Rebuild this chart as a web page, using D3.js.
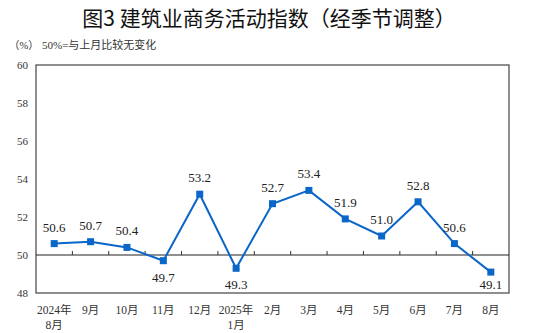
<!DOCTYPE html>
<html><head><meta charset="utf-8">
<script src="https://cdn.jsdelivr.net/npm/d3@7"></script>
<style>body{margin:0;background:#fff}svg{display:block}</style>
</head><body>
<svg id="c" width="538" height="333"></svg>
<script>
const categories = ["2024年\n8月","9月","10月","11月","12月","2025年\n1月","2月","3月","4月","5月","6月","7月","8月"];
const values = [50.6,50.7,50.4,49.7,53.2,49.3,52.7,53.4,51.9,51.0,52.8,50.6,49.1];
const labelBelow = [false,false,false,true,false,true,false,false,false,false,false,false,true];
const yTicks = [48,50,52,54,56,58,60];
const title = "图3  建筑业商务活动指数（经季节调整）";
const note = "50%=与上月比较无变化";
const unit = "（%）";

const svg = d3.select("#c");
const L=36,R=509,T=65,B=293;
const x = d3.scaleBand().domain(d3.range(categories.length)).range([L,R]);
const y = d3.scaleLinear().domain([48,60]).range([B,T]);
const serif = "'Liberation Serif','Times New Roman','Noto Sans CJK SC',serif";
const blue = "#0a66c8";

svg.append("text").attr("x",269).attr("y",26).attr("text-anchor","middle")
  .attr("font-family","'Noto Sans CJK SC',sans-serif").attr("font-weight",400).attr("font-size",21).attr("fill","#111").text(title);
svg.append("text").attr("x",9).attr("y",49).attr("font-family",serif).attr("font-size",10.5).attr("fill","#333").text(unit);
svg.append("text").attr("x",42).attr("y",49).attr("font-family",serif).attr("font-size",11).attr("fill","#333").text(note);

svg.append("rect").attr("x",L).attr("y",T).attr("width",R-L).attr("height",B-T)
  .attr("fill","none").attr("stroke","#444").attr("stroke-width",1.2);

const yAxis = d3.axisLeft(y).tickValues(yTicks).tickSize(0).tickPadding(8);
const ga = svg.append("g").attr("transform",`translate(${L},0)`).call(yAxis);
ga.select(".domain").remove();
ga.selectAll("text").attr("font-family",serif).attr("font-size",11).attr("fill","#333");

svg.append("line").attr("x1",L).attr("x2",R).attr("y1",y(50)).attr("y2",y(50)).attr("stroke","#222").attr("stroke-width",1.2);
svg.selectAll(".tk").data(d3.range(1,categories.length)).enter().append("line")
  .attr("x1",i=>x(i)).attr("x2",i=>x(i)).attr("y1",y(50)).attr("y2",y(50)-4)
  .attr("stroke","#333").attr("stroke-width",1);

const xl = svg.selectAll(".xl").data(categories).enter().append("text")
  .attr("text-anchor","middle").attr("font-family",serif).attr("font-size",11.5).attr("fill","#333");
xl.each(function(d,i){
  const parts=d.split("\n");
  const t=d3.select(this);
  parts.forEach((p,j)=>{
    t.append("tspan").attr("x",x(i)+x.bandwidth()/2).attr("y",314+j*15).text(p);
  });
});

const cx = i=>x(i)+x.bandwidth()/2;
svg.append("path").datum(values).attr("fill","none").attr("stroke",blue).attr("stroke-width",2)
  .attr("d",d3.line().x((d,i)=>cx(i)).y(d=>y(d)));
svg.selectAll(".pt").data(values).enter().append("rect")
  .attr("x",(d,i)=>cx(i)-3.5).attr("y",d=>y(d)-3.5).attr("width",7).attr("height",7).attr("fill",blue);

svg.selectAll(".lb").data(values).enter().append("text")
  .attr("x",(d,i)=>cx(i)).attr("y",(d,i)=>labelBelow[i]? Math.min(y(d)+21, B-4) : y(d)-12)
  .attr("text-anchor","middle").attr("font-family",serif).attr("font-size",13).attr("fill","#222")
  .text(d=>d.toFixed(1));
</script>
</body></html>
